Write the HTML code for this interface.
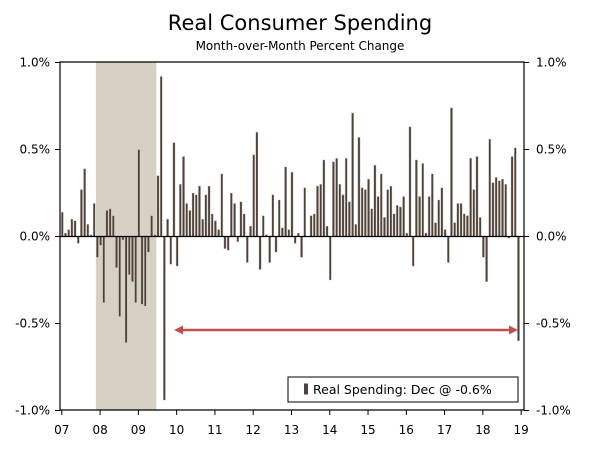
<!DOCTYPE html>
<html><head><meta charset="utf-8"><style>
body{margin:0;background:#fff;}
svg text{font-family:"DejaVu Sans","Liberation Sans",sans-serif;fill:#000;}
</style></head><body>
<svg width="600" height="449" viewBox="0 0 600 449" xmlns="http://www.w3.org/2000/svg">
<text x="300" y="30" text-anchor="middle" font-size="21">Real Consumer Spending</text>
<text x="300" y="50" text-anchor="middle" font-size="12">Month-over-Month Percent Change</text>
<g id="plot"></g>
</svg>
<script>
const values = [0.14,0.02,0.04,0.10,0.09,-0.04,0.27,0.39,0.07,0.01,0.19,-0.12,
-0.05,-0.38,0.15,0.16,0.12,-0.18,-0.46,-0.02,-0.61,-0.22,-0.26,-0.38,
0.50,-0.39,-0.40,-0.09,0.12,0.01,0.35,0.92,-0.94,0.10,-0.16,0.54,
-0.17,0.30,0.46,0.19,0.15,0.25,0.24,0.29,0.10,0.24,0.29,0.13,
0.09,0.04,0.36,-0.07,-0.08,0.25,0.19,-0.03,0.20,0.13,-0.15,0.06,
0.47,0.60,-0.19,0.12,0.01,-0.15,0.24,-0.09,0.21,0.05,0.40,0.04,
0.37,-0.04,0.02,-0.12,0.28,0.00,0.12,0.13,0.29,0.30,0.44,0.06,
-0.25,0.43,0.45,0.30,0.24,0.45,0.20,0.71,0.07,0.57,0.28,0.27,
0.33,0.16,0.41,0.23,0.36,0.11,0.27,0.29,0.13,0.18,0.17,0.23,
0.02,0.63,-0.17,0.44,0.23,0.42,0.02,0.23,0.36,0.08,0.21,0.28,
0.04,-0.15,0.74,0.08,0.19,0.19,0.13,0.12,0.45,0.27,0.46,0.11,
-0.12,-0.26,0.56,0.31,0.34,0.32,0.33,0.30,-0.01,0.46,0.51,-0.60];
const yTicks = [1.0,0.5,0.0,-0.5,-1.0];
const yTickLabels = ["1.0%","0.5%","0.0%","-0.5%","-1.0%"];
const xYearLabels = ["07","08","09","10","11","12","13","14","15","16","17","18","19"];
const recession = [11, 29]; // month index start/end (Dec 07 - Jun 09)

const NS="http://www.w3.org/2000/svg";
const g=document.getElementById('plot');
const L=60,R=524,T=62,B=410;
const yS=v=>236.5-v*174;
const xS=i=>62.3+i*3.19;
function mk(tag,attrs){const e=document.createElementNS(NS,tag);for(const k in attrs)e.setAttribute(k,attrs[k]);g.appendChild(e);return e;}

let rec=mk('rect',{x:xS(recession[0])-1.5,y:T,width:xS(recession[1])-xS(recession[0])+3,height:B-T,fill:'#d6d1c4'});



values.forEach((v,i)=>{
  const y0=yS(0),y1=yS(v);
  const b=mk('rect',{x:xS(i)-1.1,y:Math.min(y0,y1),width:2.2,height:Math.max(0.5,Math.abs(y1-y0)),fill:'#4d4139',stroke:'#cfc8c0','stroke-width':0.4});
  
  
});

let zl=mk('line',{x1:L,x2:R,y1:yS(0),y2:yS(0),stroke:'#000','stroke-width':1.2});


let fr=mk('path',{d:`M${L},${B}V${T}H${R}V${B}H${L}`,fill:'none',stroke:'#000','stroke-width':1.2});



yTicks.forEach((t,k)=>{
  const y=yS(t);
  mk('line',{x1:L-5,x2:L,y1:y,y2:y,stroke:'#000'});
  mk('line',{x1:R,x2:R+5,y1:y,y2:y,stroke:'#000'});
  const a=mk('text',{x:L-10,y:y+4,'text-anchor':'end','font-size':12});
  a.textContent=yTickLabels[k];
  
  
  const c=mk('text',{x:R+12,y:y+4,'font-size':12});
  c.textContent=yTickLabels[k];
  
  
});

xYearLabels.forEach((l,k)=>{
  const x=xS(k*12)-0.5;
  mk('line',{x1:x,x2:x,y1:B,y2:B+5,stroke:'#000'});
  const t=mk('text',{x:x,y:B+24,'text-anchor':'middle','font-size':12});
  t.textContent=l;
  
  
});

const ay=330, ax1=174, ax2=518;
let ar=mk('line',{x1:ax1+6,x2:ax2-6,y1:ay,y2:ay,stroke:'#c0504d','stroke-width':2.5});


mk('polygon',{points:`${ax1},${ay} ${ax1+9},${ay-4.5} ${ax1+9},${ay+4.5}`,fill:'#c0504d'});
mk('polygon',{points:`${ax2},${ay} ${ax2-9},${ay-4.5} ${ax2-9},${ay+4.5}`,fill:'#c0504d'});

let lb=mk('rect',{x:288,y:377,width:230,height:25,fill:'#fff',stroke:'#000','stroke-width':1});


mk('rect',{x:304,y:383.5,width:4,height:11,fill:'#4d4139'});
let lt=mk('text',{x:313,y:394,'font-size':12.5});
lt.textContent='Real Spending: Dec @ -0.6%';


</script>
</body></html>
